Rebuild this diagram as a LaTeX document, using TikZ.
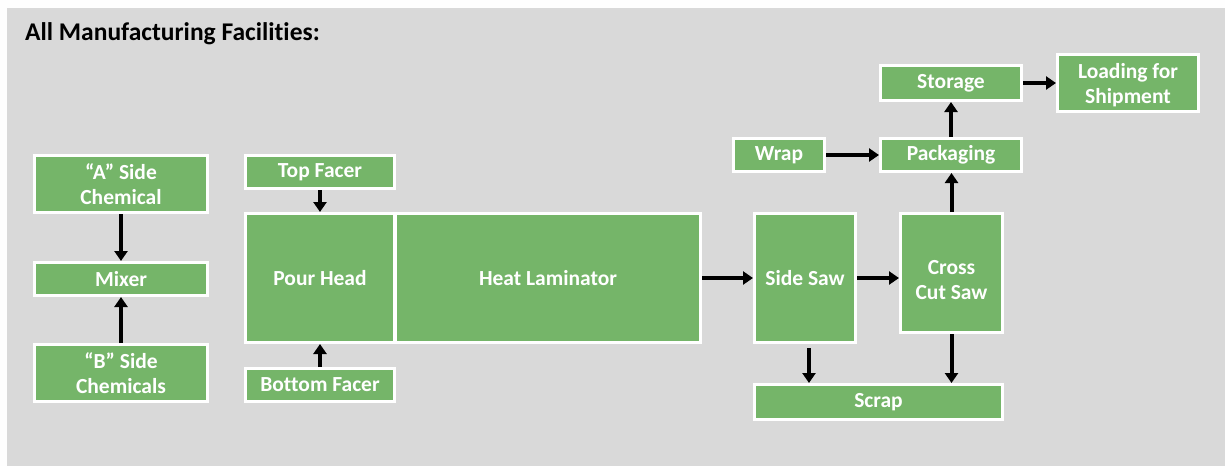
\documentclass[tikz,border=0pt]{standalone}
\usepackage{fontspec}
\setmainfont{Carlito}[Ligatures=NoCommon]
\usetikzlibrary{arrows.meta}
\definecolor{boxgreen}{RGB}{117,181,105}
\definecolor{bggrey}{RGB}{217,217,217}
\tikzset{
  boxfont/.style={font=\fontsize{21.5}{25}\selectfont\bfseries, text=white, align=center},
  procbox/.style={draw=white, line width=3pt, fill=boxgreen, boxfont, inner sep=0pt},
  flowarrow/.style={draw=black, line width=4pt,
    -{Triangle[width=13pt,length=10pt]}},
}
\newcommand{\bx}[6]{% name, cx, cy, w, h, text
  \node[procbox, minimum width=#4pt-3pt, minimum height=#5pt-3pt] (#1) at (#2,#3) {#6};}
\newcommand{\bxlow}[7]{% name, cx, cy, w, h, text, downward text shift
  \node[procbox, minimum width=#4pt-3pt, minimum height=#5pt-3pt,
    label={[boxfont, inner sep=0pt, yshift=-#7pt]center:#6}] (#1) at (#2,#3) {};}
\begin{document}
\begin{tikzpicture}[x=1pt,y=-1pt]
\useasboundingbox (0,0) rectangle (1225,466);
\fill[white!97!bggrey] (0,0) rectangle (1225,466);
\fill[bggrey] (7,8) rectangle (1225,466);
\node[anchor=base west, inner sep=0pt, font=\fontsize{25.5}{30}\selectfont\bfseries] (title) at (25,40) {All Manufacturing Facilities:};

\bx{A}{121}{184}{176}{60}{“A” Side\\Chemical}
\bx{Mixer}{121}{279}{176}{36}{Mixer}
\bx{B}{121}{373}{176}{60}{“B” Side\\Chemicals}
\bx{Top}{320}{172}{152}{36}{Top Facer}
\bx{Pour}{320}{278}{152}{132}{Pour Head}
\bx{Heat}{548}{278}{308}{132}{Heat Laminator}
\bx{Bottom}{320}{385}{152}{36}{Bottom Facer}
\bx{SideSaw}{805}{278}{104}{132}{Side Saw}
\bxlow{Cross}{951.5}{273}{105}{122}{Cross\\Cut Saw}{7}
\bx{Scrap}{878.5}{402}{251}{38}{Scrap}
\bx{Wrap}{779}{155}{94}{36}{Wrap}
\bx{Pack}{951}{155}{144}{36}{Packaging}
\bx{Storage}{951}{83}{144}{38}{Storage}
\bxlow{Load}{1128}{83}{144}{60}{Loading for\\Shipment}{2.5}

\draw[flowarrow] (A) -- (Mixer);
\draw[flowarrow] (B) -- (Mixer);
\draw[flowarrow] (Top) -- (Pour);
\draw[flowarrow] (Bottom) -- (Pour);
\draw[flowarrow] (Heat.east) -- (SideSaw.west);
\draw[flowarrow] (SideSaw.east) -- (SideSaw.east -| Cross.west);
\draw[flowarrow, shorten <=4pt] ([xshift=4pt]SideSaw.south) -- ([xshift=4pt]SideSaw.south |- Scrap.north);
\draw[flowarrow] (Cross.south) -- (Cross.south |- Scrap.north);
\draw[flowarrow] (Cross.north) -- (Cross.north |- Pack.south);
\draw[flowarrow] (Pack) -- (Storage);
\draw[flowarrow] (Wrap) -- (Pack);
\draw[flowarrow] (Storage) -- (Load);
\end{tikzpicture}
\end{document}
